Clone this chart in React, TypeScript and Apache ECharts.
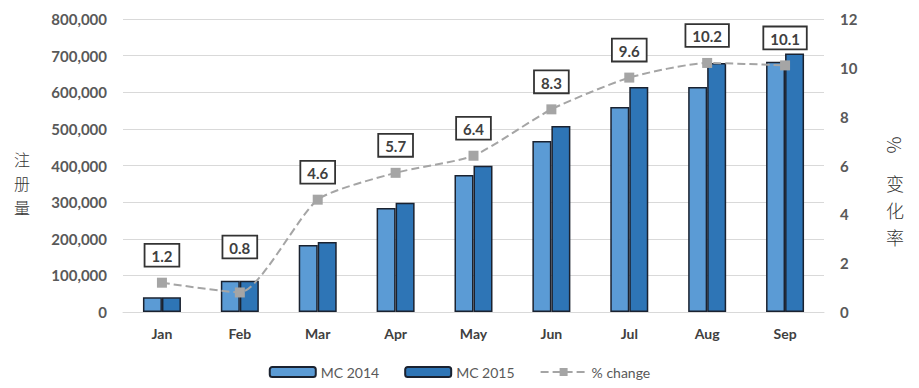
import React, { useEffect, useRef } from "react";
import * as echarts from "echarts";

const months = ["Jan", "Feb", "Mar", "Apr", "May", "Jun", "Jul", "Aug", "Sep"];
const mc2014 = [40000, 85000, 183000, 284000, 374000, 467000, 560000, 614000, 683000];
const mc2015 = [40000, 85000, 191000, 298000, 399000, 508000, 614000, 680000, 706000];
const pctChange = [1.2, 0.8, 4.6, 5.7, 6.4, 8.3, 9.6, 10.2, 10.1];
const leftTitle = ["注", "册", "量"];
const rightTitle = ["变", "化", "率"];

const FONT = "Lato, 'Open Sans', sans-serif";
const CJK = "'Noto Sans CJK SC', sans-serif";

export default function App() {
  const ref = useRef<HTMLDivElement>(null);
  useEffect(() => {
    if (!ref.current) return;
    const chart = echarts.init(ref.current, null, { renderer: "svg" });
    const labelBase = {
      show: true,
      position: "top",
      distance: 12,
      backgroundColor: "#fff",
      borderColor: "#333",
      borderWidth: 1.8,
      padding: [4, 6, 2, 6],
      color: "#404040",
      fontWeight: "bold",
      fontSize: 15,
      fontFamily: FONT,
      formatter: (p: any) => p.value.toFixed(1),
    };
    const charText = (ch: string, x: number, y: number, size: number) => ({
      type: "text",
      x,
      y,
      style: {
        text: ch,
        font: "300 " + size + "px " + CJK,
        fill: "#333",
        align: "center",
        verticalAlign: "middle",
      },
    });
    chart.setOption({
      animation: false,
      grid: { left: 123, right: 95, top: 19, bottom: 76 },
      legend: {
        top: 360,
        left: "center",
        itemWidth: 46,
        itemHeight: 10,
        itemGap: 25,
        textStyle: { color: "#595959", fontSize: 14, fontFamily: FONT },
        data: ["MC 2014", "MC 2015", "% change"],
      },
      xAxis: {
        type: "category",
        data: months,
        axisLine: { lineStyle: { color: "#d9d9d9" } },
        axisTick: { show: false },
        axisLabel: { color: "#404040", fontWeight: "bold", fontSize: 14, fontFamily: FONT, margin: 14 },
      },
      yAxis: [
        {
          type: "value",
          min: 0,
          max: 800000,
          interval: 100000,
          axisLine: { show: false },
          axisTick: { show: false },
          splitLine: { lineStyle: { color: "#d9d9d9", width: 1.2 } },
          axisLabel: {
            color: "#595959",
            fontWeight: "bold",
            fontSize: 15,
            fontFamily: FONT,
            margin: 16,
            formatter: (v: number) => v.toLocaleString("en-US"),
          },
        },
        {
          type: "value",
          min: 0,
          max: 12,
          interval: 2,
          axisLine: { show: false },
          axisTick: { show: false },
          splitLine: { show: false },
          axisLabel: { color: "#595959", fontWeight: "bold", fontSize: 15, fontFamily: FONT, margin: 16 },
        },
      ],
      series: [
        {
          name: "MC 2014",
          type: "bar",
          data: mc2014,
          barWidth: 19,
          barGap: "0%",
          itemStyle: { color: "#5B9BD5", borderColor: "#1a2230", borderWidth: 1.5 },
        },
        {
          name: "MC 2015",
          type: "bar",
          data: mc2015,
          barWidth: 19,
          itemStyle: { color: "#2E75B6", borderColor: "#1a2230", borderWidth: 1.5 },
        },
        {
          name: "% change",
          type: "line",
          yAxisIndex: 1,
          smooth: 0.2,
          symbol: "rect",
          symbolSize: 10,
          z: 5,
          lineStyle: { color: "#A5A5A5", type: "dashed", width: 2 },
          itemStyle: { color: "#A5A5A5" },
          label: labelBase,
          data: pctChange.map((v, i) =>
            i === 1 ? { value: v, label: { distance: 30 } } : v
          ),
        },
      ],
      graphic: [
        ...leftTitle.map((ch, i) => charText(ch, 22, 159 + i * 24, 16)),
        {
          type: "text",
          x: 895,
          y: 145,
          rotation: -Math.PI / 2,
          style: { text: "%", font: "300 19px " + CJK, fill: "#333", align: "center", verticalAlign: "middle" },
        },
        ...rightTitle.map((ch, i) => charText(ch, 895, 183 + i * 27, 18)),
      ],
    });
    return () => chart.dispose();
  }, []);
  return <div ref={ref} style={{ width: 919, height: 388, position: "absolute", left: 0, top: 0 }} />;
}
